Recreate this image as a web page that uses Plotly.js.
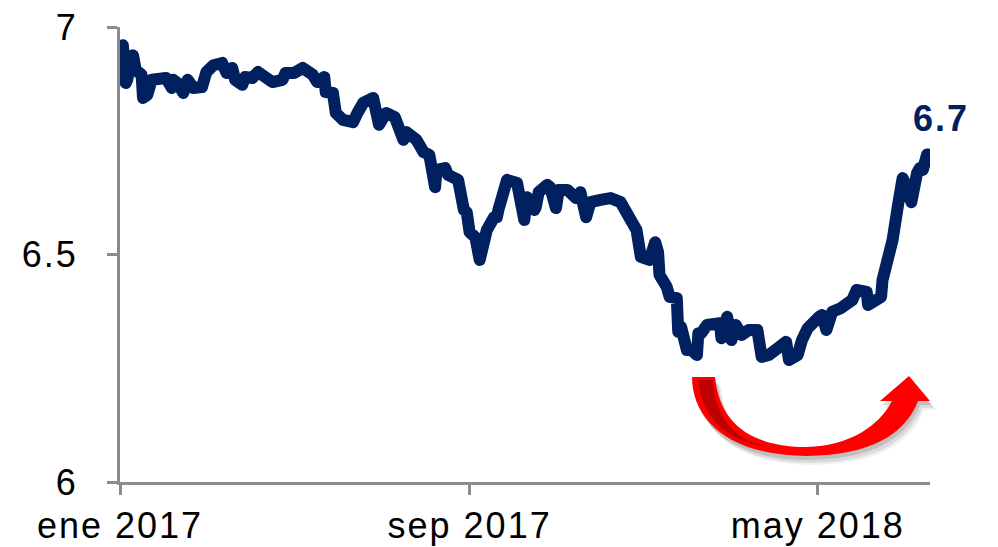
<!DOCTYPE html>
<html>
<head>
<meta charset="utf-8">
<script src="https://cdn.plot.ly/plotly-3.0.1.min.js"></script>
<style>
  html, body { margin: 0; padding: 0; background: #ffffff; }
  #chart { width: 998px; height: 547px; }
  #chart .xtick text, #chart .ytick text, #chart .annotation-text { letter-spacing: 2px; }
  #chart .scatterlayer path.js-line { stroke-linejoin: round; stroke-linecap: round; }
</style>
</head>
<body>
<div id="chart"></div>
<script>
// Daily USD/CNY fixing, Jan 2017 - Jul 2018
const dates = [
  '2017-01-03','2017-01-04','2017-01-05','2017-01-06','2017-01-09','2017-01-10','2017-01-12','2017-01-16',
  '2017-01-17','2017-01-20','2017-01-23','2017-01-27','2017-02-02','2017-02-06','2017-02-07','2017-02-10',
  '2017-02-14','2017-02-17','2017-02-21','2017-02-27','2017-03-02','2017-03-07','2017-03-13','2017-03-16',
  '2017-03-20','2017-03-22','2017-03-27','2017-03-29','2017-04-03','2017-04-07','2017-04-12','2017-04-17',
  '2017-04-24','2017-04-26','2017-05-02','2017-05-08','2017-05-15','2017-05-18','2017-05-23','2017-05-24',
  '2017-05-29','2017-05-31','2017-06-05','2017-06-12','2017-06-15','2017-06-19','2017-06-26','2017-06-30',
  '2017-07-05','2017-07-11','2017-07-17','2017-07-19','2017-07-26','2017-07-31','2017-08-04','2017-08-08',
  '2017-08-09','2017-08-15','2017-08-17','2017-08-24','2017-08-28','2017-08-30','2017-09-01','2017-09-05',
  '2017-09-08','2017-09-11','2017-09-13','2017-09-18','2017-09-20','2017-09-21','2017-09-25','2017-09-27',
  '2017-10-04','2017-10-09','2017-10-11','2017-10-16','2017-10-17','2017-10-19','2017-10-25','2017-10-27',
  '2017-10-31','2017-11-02','2017-11-08','2017-11-14','2017-11-17','2017-11-21','2017-11-24','2017-12-01',
  '2017-12-08','2017-12-15','2017-12-18','2017-12-22','2017-12-26','2017-12-27','2017-12-29','2018-01-04',
  '2018-01-08','2018-01-10','2018-01-11','2018-01-16','2018-01-18','2018-01-23','2018-01-24','2018-01-26',
  '2018-01-30','2018-02-02','2018-02-06','2018-02-07','2018-02-09','2018-02-13','2018-02-22','2018-02-23',
  '2018-02-27','2018-03-02','2018-03-05','2018-03-09','2018-03-14','2018-03-20','2018-03-23','2018-03-28',
  '2018-04-02','2018-04-06','2018-04-09','2018-04-11','2018-04-17','2018-04-20','2018-04-24','2018-05-02',
  '2018-05-04','2018-05-07','2018-05-11','2018-05-17','2018-05-22','2018-05-25','2018-05-28','2018-06-04',
  '2018-06-05','2018-06-11','2018-06-14','2018-06-15','2018-06-19','2018-06-22','2018-06-26','2018-06-27',
  '2018-06-29','2018-07-03','2018-07-05','2018-07-09','2018-07-11','2018-07-13','2018-07-16'
];
const rates = [
  6.960, 6.930, 6.877, 6.884, 6.930, 6.938, 6.905, 6.895,
  6.844, 6.851, 6.884, 6.888, 6.888, 6.866, 6.884, 6.877,
  6.855, 6.884, 6.866, 6.868, 6.901, 6.916, 6.921, 6.899,
  6.910, 6.884, 6.873, 6.890, 6.888, 6.901, 6.888, 6.879,
  6.884, 6.899, 6.899, 6.910, 6.895, 6.879, 6.890, 6.857,
  6.855, 6.811, 6.796, 6.791, 6.811, 6.833, 6.844, 6.785,
  6.811, 6.802, 6.752, 6.769, 6.752, 6.725, 6.719, 6.648,
  6.686, 6.690, 6.675, 6.664, 6.598, 6.593, 6.549, 6.538,
  6.488, 6.525, 6.554, 6.582, 6.582, 6.598, 6.653, 6.664,
  6.657, 6.576, 6.626, 6.598, 6.604, 6.637, 6.653, 6.648,
  6.602, 6.642, 6.642, 6.624, 6.637, 6.582, 6.615, 6.620,
  6.624, 6.615, 6.591, 6.576, 6.554, 6.505, 6.495, 6.488,
  6.527, 6.505, 6.455, 6.429, 6.407, 6.404, 6.330, 6.341,
  6.290, 6.290, 6.279, 6.327, 6.327, 6.345, 6.349, 6.316,
  6.363, 6.312, 6.345, 6.323, 6.334, 6.334, 6.275, 6.279,
  6.290, 6.305, 6.308, 6.268, 6.279, 6.312, 6.338, 6.363,
  6.367, 6.334, 6.374, 6.382, 6.393, 6.400, 6.422, 6.418,
  6.389, 6.400, 6.407, 6.444, 6.488, 6.532, 6.613, 6.626,
  6.668, 6.637, 6.615, 6.679, 6.690, 6.686, 6.720
];

const xTickDates  = ['2017-01-01', '2017-09-01', '2018-05-01'];
const xTickLabels = ['ene 2017', 'sep 2017', 'may 2018'];
const yTickValues = [6, 6.5, 7];
const yTickLabels = ['6', '6.5', '7'];

// plot frame in pixels
const M = { l: 120, r: 68, t: 27, b: 65 };
const W = 998 - M.l - M.r;
const H = 547 - M.t - M.b;

// convert "x,y" pixel pairs of an SVG path into paper fractions
function toPaper(d, dx, dy) {
  dx = dx || 0; dy = dy || 0;
  return d.replace(/(-?\d+(?:\.\d+)?),(-?\d+(?:\.\d+)?)/g, function (m, a, b) {
    const px = ((+a + dx) - M.l) / W;
    const py = (M.t + H - (+b + dy)) / H;
    return px.toFixed(5) + ',' + py.toFixed(5);
  });
}

// curved "rebound" arrow under the trough
const arrowBody = 'M692,377 C692,420 730,456 807,456 C870,455 905,435 918,401 L930,401 L909,376 L880,401 L892,401 ' +
                  'C880,425 850,446 807,447 C760,447 720,430 715,377 Z';
const arrowFold = 'M713,380 C716,428 745,445 775,447 C740,446 703,428 698,380 Z';

const shapes = [];
[[6, 9, 0.06], [4, 7, 0.09], [2, 4, 0.12]].forEach(function (s) {
  shapes.push({
    type: 'path', xref: 'paper', yref: 'paper', layer: 'above',
    path: toPaper(arrowBody, s[0], s[1]),
    fillcolor: 'rgba(0,0,0,' + s[2] + ')', line: { width: 0 }
  });
});
shapes.push({
  type: 'path', xref: 'paper', yref: 'paper', layer: 'above',
  path: toPaper(arrowBody), fillcolor: '#ff0000', line: { width: 0 }
});
shapes.push({
  type: 'path', xref: 'paper', yref: 'paper', layer: 'above',
  path: toPaper(arrowFold), fillcolor: '#c00000', line: { width: 0 }
});

const last = rates.length - 1;
const axisGrey = '#8c8c8c';
const tickFont = { family: 'Liberation Sans, Arial, sans-serif', size: 36, color: '#000000' };

const trace = {
  type: 'scatter', mode: 'lines',
  x: dates, y: rates,
  line: { color: '#002060', width: 12 },
  hoverinfo: 'x+y'
};

const layout = {
  width: 998, height: 547,
  margin: M,
  paper_bgcolor: '#ffffff', plot_bgcolor: '#ffffff',
  showlegend: false,
  xaxis: {
    type: 'date',
    range: ['2017-01-01', '2018-07-18'],
    tickmode: 'array', tickvals: xTickDates, ticktext: xTickLabels,
    showgrid: false, zeroline: false,
    showline: true, linecolor: axisGrey, linewidth: 3,
    ticks: 'outside', ticklen: 10, tickwidth: 3, tickcolor: axisGrey,
    ticklabelstandoff: 0,
    tickfont: tickFont
  },
  yaxis: {
    range: [6, 7],
    tickmode: 'array', tickvals: yTickValues, ticktext: yTickLabels,
    showgrid: false, zeroline: false,
    showline: true, linecolor: axisGrey, linewidth: 3,
    ticks: 'outside', ticklen: 10, tickwidth: 3, tickcolor: axisGrey,
    ticklabelstandoff: 22,
    tickfont: tickFont
  },
  annotations: [{
    x: dates[last], y: rates[last], xref: 'x', yref: 'y',
    text: '<b>' + rates[last].toFixed(1) + '</b>',
    showarrow: false, xanchor: 'center', yanchor: 'middle',
    xshift: 14, yshift: 36,
    font: { family: 'Liberation Sans, Arial, sans-serif', size: 36, color: '#002060' }
  }],
  shapes: shapes
};

Plotly.newPlot('chart', [trace], layout, { staticPlot: true, displayModeBar: false });
</script>
</body>
</html>
